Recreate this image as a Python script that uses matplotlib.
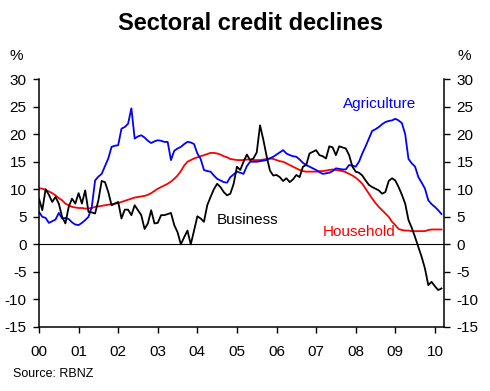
import numpy as np
import matplotlib
matplotlib.use('Agg')
import matplotlib.pyplot as plt

plt.rcParams['font.family'] = ['Liberation Sans', 'DejaVu Sans']

# monthly annual % change, Jan 2000 - Mar 2010
start_year = 2000
agriculture = [5.9, 5.0, 4.8, 3.9, 4.2, 4.5, 5.7, 4.7, 4.8, 4.6, 4.0, 3.6,
               3.5, 3.9, 4.4, 5.0, 6.8, 11.6, 12.3, 12.8, 14.2, 15.6, 17.7, 17.9,
               18.0, 21.0, 21.3, 21.9, 24.7, 19.2, 19.6, 19.8, 19.4, 18.8, 18.4, 18.7,
               18.9, 18.8, 18.6, 18.6, 15.3, 17.0, 17.4, 17.7, 18.2, 18.6, 18.5, 18.2,
               16.5, 15.5, 13.5, 13.3, 13.2, 12.5, 11.9, 11.6, 11.3, 11.2, 12.2, 12.7,
               13.2, 13.0, 12.8, 14.2, 15.0, 15.0, 15.0, 15.1, 15.2, 15.3, 15.6, 15.9,
               16.3, 16.7, 17.1, 16.5, 16.2, 16.0, 15.9, 15.4, 14.8, 14.4, 14.1, 13.8,
               13.5, 13.1, 12.8, 12.9, 13.0, 13.3, 13.8, 13.7, 13.6, 13.6, 14.4, 14.3,
               14.1, 15.0, 16.5, 17.8, 19.2, 20.6, 20.9, 21.3, 21.8, 22.2, 22.4, 22.5,
               22.8, 22.5, 22.0, 20.0, 15.5, 14.7, 14.1, 12.2, 11.2, 10.1, 8.0, 7.3,
               6.8, 6.2, 5.5]
household = [10.2, 10.1, 9.9, 9.6, 9.3, 8.9, 8.4, 8.0, 7.4, 7.1, 6.8, 6.7,
             6.6, 6.6, 6.5, 6.5, 6.6, 6.8, 6.9, 7.0, 7.1, 7.2, 7.3, 7.4,
             7.5, 7.7, 7.9, 8.1, 8.3, 8.5, 8.6, 8.7, 8.8, 9.0, 9.3, 9.7,
             10.1, 10.4, 10.7, 11.0, 11.4, 11.9, 12.5, 13.3, 14.3, 15.0, 15.3, 15.6,
             15.8, 16.0, 16.2, 16.4, 16.6, 16.6, 16.5, 16.3, 16.0, 15.8, 15.5, 15.4,
             15.3, 15.3, 15.3, 15.4, 15.4, 15.3, 15.3, 15.3, 15.4, 15.5, 15.6, 15.5,
             15.3, 15.1, 15.0, 14.7, 14.4, 14.1, 13.8, 13.5, 13.3, 13.2, 13.2, 13.2,
             13.2, 13.3, 13.3, 13.4, 13.5, 13.6, 13.5, 13.4, 13.3, 13.1, 12.8, 12.5,
             12.1, 11.6, 11.0, 10.1, 9.2, 8.3, 7.5, 6.8, 6.2, 5.6, 5.0, 4.1,
             3.5, 2.8, 2.6, 2.5, 2.5, 2.4, 2.4, 2.4, 2.4, 2.4, 2.6, 2.7,
             2.7, 2.7, 2.7]
business = [8.3, 6.2, 10.0, 9.0, 7.7, 8.6, 7.4, 5.0, 3.8, 6.8, 8.3, 7.4,
            9.3, 7.4, 9.8, 5.9, 5.8, 5.6, 8.0, 11.5, 11.3, 9.5, 7.1, 7.4,
            7.7, 4.7, 6.3, 6.3, 5.3, 7.1, 6.2, 5.3, 2.8, 3.8, 6.2, 3.8,
            3.9, 5.3, 5.3, 5.5, 5.7, 3.5, 2.2, 0.0, 1.3, 2.5, 0.0, 2.5,
            5.1, 4.7, 4.1, 7.1, 8.6, 10.0, 11.0, 10.4, 9.5, 8.9, 9.2, 11.0,
            14.1, 13.5, 15.0, 16.3, 15.3, 15.6, 16.7, 21.6, 19.0, 16.0, 13.4, 12.5,
            12.6, 12.2, 11.5, 12.0, 11.3, 11.8, 12.6, 12.2, 14.1, 14.4, 16.5, 16.8,
            17.1, 16.2, 16.0, 15.6, 17.8, 17.6, 16.2, 17.8, 17.6, 17.4, 16.2, 14.1,
            13.2, 13.0, 12.5, 11.6, 10.8, 10.4, 10.1, 9.8, 9.2, 9.5, 11.5, 12.0,
            11.6, 10.4, 9.0, 7.4, 4.4, 3.0, 1.3, -0.5, -2.3, -4.4, -7.4, -6.8,
            -7.6, -8.3, -8.0]
year_labels = ['00', '01', '02', '03', '04', '05', '06', '07', '08', '09', '10']
y_ticks = [-15, -10, -5, 0, 5, 10, 15, 20, 25, 30]

t = start_year + np.arange(len(business)) / 12.0

fig = plt.figure(figsize=(4.9, 3.91), dpi=100)
ax = fig.add_axes([0.0796, 0.1637, 0.8265, 0.634])

ax.axhline(0, color='black', lw=0.8, zorder=1)
ax.plot(t, household, color='#ff0000', lw=1.3)
ax.plot(t, agriculture, color='#0000ff', lw=1.3)
ax.plot(t, business, color='black', lw=1.3)

ax.set_xlim(2000, 2010.23)
ax.set_ylim(-15, 30)
ax.set_xticks(range(2000, 2011))
ax.set_xticklabels(year_labels)
ax.set_yticks(y_ticks)
ax.set_yticklabels([str(v) for v in y_ticks])
ax.tick_params(axis='y', direction='out', length=4, width=1, labelsize=11,
               left=True, right=True, labelleft=True, labelright=True, pad=5)
ax.tick_params(axis='x', direction='out', length=4, width=1, labelsize=11, pad=9)
ax.spines['top'].set_visible(False)
for s in ['left', 'right', 'bottom']:
    ax.spines[s].set_linewidth(1.1)

ax.text(2007.68, 25.5, 'Agriculture', color='#0000ff', fontsize=11, va='center')
ax.text(2004.49, 4.5, 'Business', color='black', fontsize=11, va='center')
ax.text(2007.17, 2.2, 'Household', color='#ff0000', fontsize=11, va='center')

fig.text(250 / 490, 1 - 24 / 391, 'Sectoral credit declines', fontsize=17,
         fontweight='bold', ha='center', va='center')
fig.text(10 / 490, 1 - 56 / 391, '%', fontsize=11, ha='left', va='center')
fig.text(457 / 490, 1 - 56 / 391, '%', fontsize=11, ha='left', va='center')
fig.text(13 / 490, 1 - 374 / 391, 'Source: RBNZ', fontsize=9, ha='left', va='center')

fig.savefig('out.png', dpi=100)
